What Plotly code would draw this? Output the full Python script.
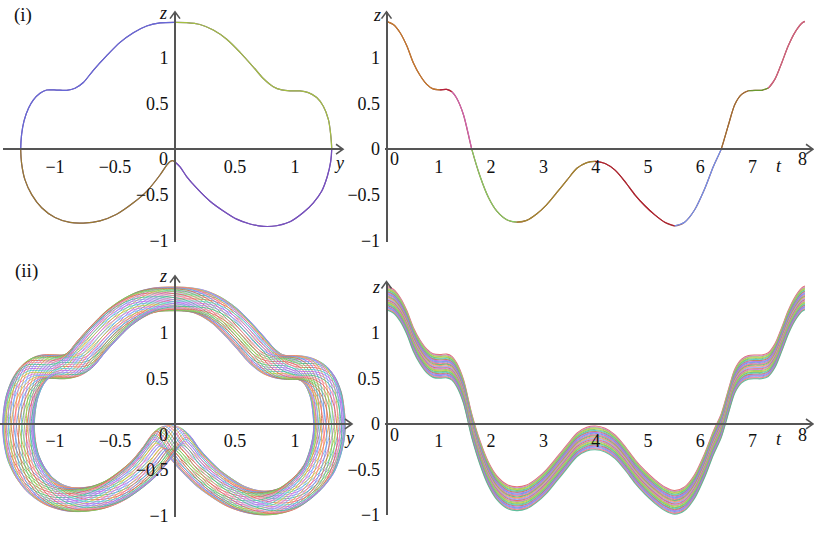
import plotly.graph_objects as go

W, H = 814, 535

# ---------------- data ----------------
# (i) right: z(t)
t_vals = [0, 0.13, 0.26, 0.39, 0.51, 0.64, 0.77, 0.89, 1.02, 1.15, 1.25, 1.34, 1.47,
          1.63, 1.79, 1.95, 2.11, 2.30, 2.49, 2.68, 2.87, 3.06, 3.25, 3.45, 3.64, 3.83,
          3.99, 4.18, 4.37, 4.56, 4.75, 4.94, 5.13, 5.32, 5.51, 5.70, 5.89, 6.08, 6.25,
          6.40, 6.54, 6.66, 6.79, 6.92, 7.05, 7.17, 7.30, 7.43, 7.56, 7.68, 7.81, 7.94, 8.0]
z_t = [1.40, 1.366, 1.276, 1.13, 0.95, 0.81, 0.71, 0.66, 0.65, 0.655, 0.63, 0.56, 0.38,
       0.0, -0.30, -0.53, -0.68, -0.774, -0.80, -0.78, -0.71, -0.61, -0.48, -0.34, -0.21,
       -0.147, -0.133, -0.157, -0.23, -0.355, -0.50, -0.62, -0.72, -0.80, -0.84, -0.80,
       -0.667, -0.44, -0.19, 0.0, 0.27, 0.49, 0.60, 0.64, 0.645, 0.645, 0.67, 0.77, 0.95,
       1.13, 1.28, 1.38, 1.40]

# (i) left: phase curve (y, z)
ph_y = [0.0, -0.125, -0.236, -0.347, -0.458, -0.569, -0.681, -0.764, -0.833, -0.903,
        -0.986, -1.069, -1.125, -1.18, -1.22, -1.258, -1.278, -1.286, -1.278, -1.25,
        -1.194, -1.111, -1.0, -0.875, -0.764, -0.625, -0.486, -0.347, -0.236, -0.125,
        -0.069, -0.04, -0.02, 0.0, 0.042, 0.097, 0.181, 0.292, 0.403, 0.514, 0.625,
        0.736, 0.847, 0.958, 1.069, 1.153, 1.222, 1.269, 1.297, 1.306, 1.297, 1.278,
        1.236, 1.181, 1.111, 1.042, 0.958, 0.889, 0.819, 0.736, 0.653, 0.542, 0.431,
        0.319, 0.208, 0.097, 0.0]
ph_z = [1.39, 1.384, 1.35, 1.276, 1.17, 1.025, 0.864, 0.73, 0.667, 0.645, 0.648, 0.648,
        0.613, 0.54, 0.45, 0.31, 0.165, 0.0, -0.158, -0.337, -0.498, -0.642, -0.749,
        -0.803, -0.81, -0.785, -0.713, -0.588, -0.462, -0.283, -0.175, -0.135, -0.125,
        -0.14, -0.194, -0.30, -0.427, -0.57, -0.677, -0.767, -0.82, -0.846, -0.839,
        -0.796, -0.695, -0.588, -0.462, -0.30, -0.14, 0.0, 0.165, 0.326, 0.47, 0.566,
        0.62, 0.638, 0.638, 0.649, 0.685, 0.774, 0.90, 1.061, 1.204, 1.305, 1.366,
        1.387, 1.39]

band_dz = [0.11, 0.10, 0.09, 0.08, 0.07, 0.06, 0.05, 0.04, 0.03, 0.02, 0.01, 0.0,
           -0.01, -0.02, -0.03, -0.04, -0.05, -0.06, -0.07, -0.08, -0.09, -0.10,
           -0.11, -0.12, -0.13, -0.14, -0.15]
# (ii) left: (y, z) offsets of the perturbed orbits (ring of initial perturbations)
phase_dy = [0.114, 0.112, 0.106, 0.096, 0.083, 0.067, 0.048, 0.027, 0.005, -0.018,
            -0.041, -0.063, -0.084, -0.103, -0.119, -0.132, -0.142, -0.148, -0.150,
            -0.148, -0.142, -0.132, -0.119, -0.103, -0.084, -0.063, -0.041, -0.018,
            0.005, 0.027, 0.048, 0.067, 0.083, 0.096, 0.106, 0.112]
phase_dz = [-0.020, 0.003, 0.024, 0.045, 0.064, 0.080, 0.093, 0.102, 0.108, 0.110,
            0.108, 0.102, 0.093, 0.080, 0.064, 0.045, 0.024, 0.003, -0.020, -0.043,
            -0.064, -0.085, -0.104, -0.120, -0.133, -0.142, -0.148, -0.150, -0.148,
            -0.142, -0.133, -0.120, -0.104, -0.085, -0.064, -0.043]

# tick labels
yticks = [-1, -0.5, 0.5, 1]
yticktext = ["\u22121", "\u22120.5", "0.5", "1"]
zticks_phase = [-1, -0.5, 0.5, 1]
zticktext_phase = ["\u22121", "\u22120.5", "0.5", "1"]
zticks_time = [-1, -0.5, 0, 0.5, 1]
zticktext_time = ["\u22121", "\u22120.5", "0", "0.5", "1"]
tticks = [1, 2, 3, 4, 5, 6, 7]

# ---------------- styling ----------------
FONT = "Liberation Serif, Times New Roman, Times, serif"
AX = "#555555"
band_colors = ["#e06a60", "#6cc86c", "#6f9ae6", "#dcb050", "#d47cd4", "#5cc8c8",
               "#9c90e4", "#ee8ca4", "#98cc60", "#c08050", "#ff7878", "#7cb0ff",
               "#c8c848", "#b870ee", "#50b894"]


def fx(px):
    return px / W


def fy(py):
    return 1 - py / H


YS, T0, TS, ZS = 120.0, 386.5, 52.3, 93.0   # px per unit

fig = go.Figure()
LS = dict(shape="spline", smoothing=0.8)

# ---- (i) phase curve ----
fig.add_trace(go.Scatter(x=ph_y, y=ph_z, mode="lines", xaxis="x", yaxis="y",
                         line=dict(color="#7a5aa0", width=1.2, **LS), hoverinfo="skip"))
ph_segs = [(0, 18, "#6668d8"), (17, 34, "#9a7a2e"), (33, 50, "#7650c0"), (49, 67, "#a4c040")]
for a, b, c in ph_segs:
    fig.add_trace(go.Scatter(x=ph_y[a:b], y=ph_z[a:b], mode="lines", xaxis="x", yaxis="y",
                             line=dict(color=c, width=1.2, **LS), hoverinfo="skip"))

# ---- (i) z(t) ----
fig.add_trace(go.Scatter(x=t_vals, y=z_t, mode="lines", xaxis="x2", yaxis="y2",
                         line=dict(color="#a05040", width=1.2, **LS), hoverinfo="skip"))
t_segs = [(0, 1.02, "#c47a2c"), (1.02, 1.25, "#b8203c"), (1.25, 1.63, "#d060b0"),
          (1.63, 2.49, "#84cc62"), (2.49, 3.99, "#a08830"), (3.99, 5.51, "#b02030"),
          (5.51, 6.40, "#7090f0"), (6.40, 6.92, "#a07030"), (6.92, 7.30, "#6a9a30"),
          (7.30, 8.0, "#d06080")]
for a, b, c in t_segs:
    idx = [i for i, t in enumerate(t_vals) if a - 1e-9 <= t <= b + 1e-9]
    fig.add_trace(go.Scatter(x=[t_vals[i] for i in idx], y=[z_t[i] for i in idx],
                             mode="lines", xaxis="x2", yaxis="y2",
                             line=dict(color=c, width=1.2, **LS), hoverinfo="skip"))

# ---- (ii) left: perturbed orbits ----
for k, (dy, dz) in enumerate(zip(phase_dy, phase_dz)):
    fig.add_trace(go.Scatter(x=[v + dy for v in ph_y], y=[v + dz for v in ph_z],
                             mode="lines", xaxis="x3", yaxis="y3", opacity=0.9,
                             line=dict(color=band_colors[(k * 7) % len(band_colors)],
                                       width=1.0, **LS),
                             hoverinfo="skip"))

# ---- (ii) right: perturbed z(t) ----
for k, dz in enumerate(band_dz):
    fig.add_trace(go.Scatter(x=t_vals, y=[v + dz for v in z_t],
                             mode="lines", xaxis="x4", yaxis="y4", opacity=0.9,
                             line=dict(color=band_colors[(k * 4) % len(band_colors)],
                                       width=1.1, **LS),
                             hoverinfo="skip"))


def xax(dom_px, rng, pos_py, tv, tt):
    return dict(domain=[fx(dom_px[0]), fx(dom_px[1])], range=rng, anchor="free",
                position=fy(pos_py), showline=True, linecolor=AX, linewidth=1.6,
                showgrid=False, zeroline=False, ticks="", tickvals=tv, ticktext=tt,
                tickfont=dict(family=FONT, size=18, color="#111"), ticklabelstandoff=1)


def yax(dom_py, rng, pos_px, tv, tt):
    return dict(domain=[fy(dom_py[1]), fy(dom_py[0])], range=rng, anchor="free",
                position=fx(pos_px), showline=True, linecolor=AX, linewidth=1.6,
                showgrid=False, zeroline=False, ticks="", tickvals=tv, ticktext=tt,
                tickfont=dict(family=FONT, size=18, color="#111"), ticklabelstandoff=2)


t_rng = [(385 - T0) / TS, (813 - T0) / TS]
fig.update_layout(
    width=W, height=H, margin=dict(l=0, r=0, t=0, b=0),
    paper_bgcolor="white", plot_bgcolor="rgba(0,0,0,0)", showlegend=False,
    xaxis=xax((3, 343), [(3 - 175) / YS, (343 - 175) / YS], 152, yticks, yticktext),
    yaxis=yax((12, 247), [(152 - 247) / ZS, (152 - 12) / ZS], 175, zticks_phase, zticktext_phase),
    xaxis2=xax((385, 813), t_rng, 152, tticks, [str(v) for v in tticks]),
    yaxis2=yax((12, 247), [(152 - 247) / ZS, (152 - 12) / ZS], T0, zticks_time, zticktext_time),
    xaxis3=xax((0, 352), [(0 - 175) / YS, (352 - 175) / YS], 432, yticks, yticktext),
    yaxis3=yax((281, 527), [(432 - 527) / ZS, (432 - 281) / ZS], 175, zticks_phase, zticktext_phase),
    xaxis4=xax((385, 813), t_rng, 432, tticks, [str(v) for v in tticks]),
    yaxis4=yax((287, 525), [(432 - 525) / ZS, (432 - 287) / ZS], T0, zticks_time, zticktext_time),
)


def up_arrow(x, y):
    return dict(type="path", xref="paper", yref="paper",
                path=f"M {fx(x-5)},{fy(y+7)} L {fx(x)},{fy(y)} L {fx(x+5)},{fy(y+7)}",
                line=dict(color=AX, width=1.6))


def right_arrow(x, y):
    return dict(type="path", xref="paper", yref="paper",
                path=f"M {fx(x-7)},{fy(y-5)} L {fx(x)},{fy(y)} L {fx(x-7)},{fy(y+5)}",
                line=dict(color=AX, width=1.6))


fig.update_layout(shapes=[up_arrow(175, 12), right_arrow(343, 152), up_arrow(T0, 12),
                          right_arrow(813, 152), up_arrow(175, 281), right_arrow(352, 432),
                          up_arrow(T0, 287), right_arrow(813, 432)])


def note(txt, px, py, size=18, italic=False):
    return dict(text=f"<i>{txt}</i>" if italic else txt, x=fx(px), y=fy(py),
                xref="paper", yref="paper", showarrow=False, xanchor="center",
                yanchor="middle", font=dict(family=FONT, size=size, color="#111"))


fig.update_layout(annotations=[
    note("(i)", 23, 15, 19), note("(ii)", 26, 276, 19),
    note("z", 163, 13, 18, True), note("y", 339, 166, 18, True),
    note("z", 377, 15, 18, True), note("t", 779, 169, 18, True),
    note("z", 163, 281, 18, True), note("y", 349, 446, 18, True),
    note("z", 376, 292, 18, True), note("t", 779, 447, 18, True),
    note("0", 163, 162), note("0", 394, 162), note("8", 802, 162),
    note("0", 163, 443), note("0", 394, 443), note("8", 802, 443),
])

fig.write_html("out.html", config={"displayModeBar": False},
               post_script="document.body.style.margin='0';document.body.style.overflow='hidden';")
